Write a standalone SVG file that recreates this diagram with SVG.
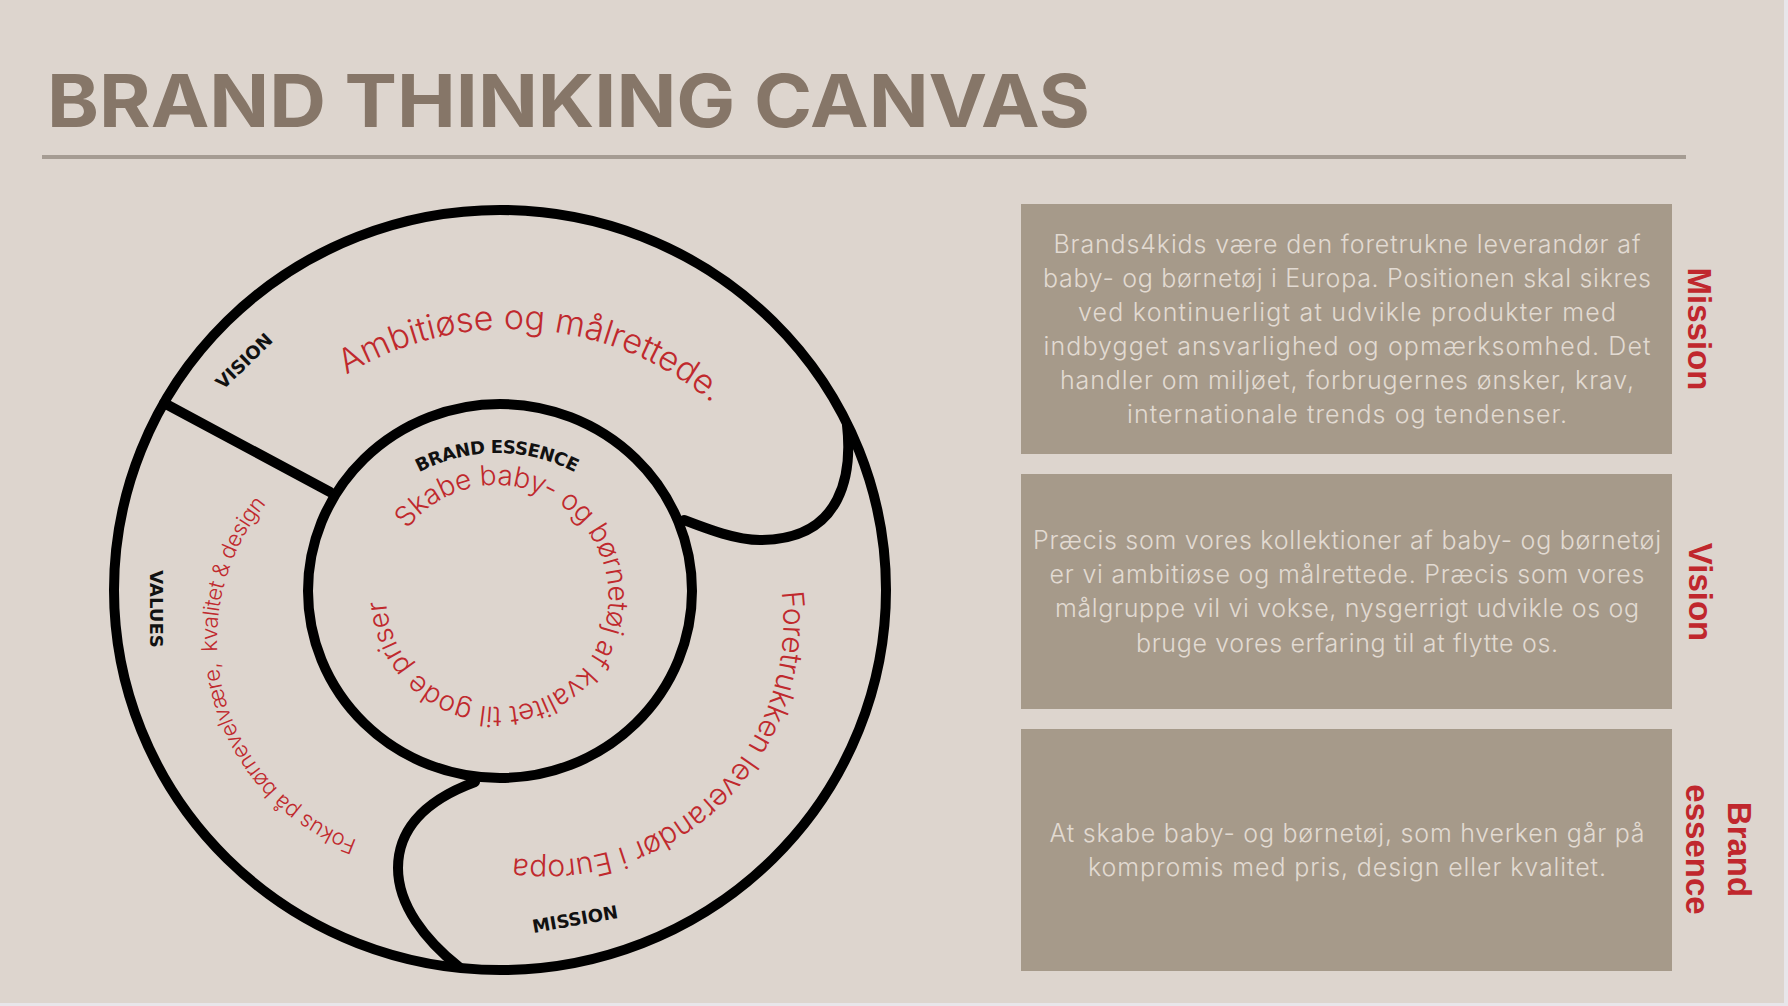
<svg xmlns="http://www.w3.org/2000/svg" width="1788" height="1006" viewBox="0 0 1788 1006">
<defs>
<style>
.ring{fill:none;stroke:#000;stroke-width:10}
.divider{fill:none;stroke:#000;stroke-width:10;stroke-linecap:round}
.lbl{font-family:"DejaVu Sans",sans-serif;font-weight:700;font-size:18px;fill:#111}
.arc{font-family:Inter,"Open Sans",sans-serif;font-weight:300;fill:#c0292d}
.box{fill:#a69a8a}
.bt{font-family:Inter,"Open Sans",sans-serif;font-weight:300;font-size:25px;fill:#e2dad2;text-anchor:middle}
.side{font-family:"Liberation Sans",Arial,sans-serif;font-weight:700;font-size:33px;fill:#c0272d;text-anchor:middle}
.title{font-family:Inter,"Liberation Sans",sans-serif;font-weight:700;font-size:73px;fill:#867668}
</style>
<path id="pAmb" d="M 346.4 375 A 314 314 0 0 1 750.5 441.2"/>
<path id="pBE" d="M 340.1 562.9 A 167 167 0 0 1 653.9 562.9"/>
<path id="pInner" d="M 407.4 529.2 A 112 112 0 0 1 588.6 660.8 A 112 112 0 0 1 397.3 545.9"/>
<path id="pFor" d="M 781.7 592 A 239 239 0 0 1 462.3 845.6"/>
<path id="pFok" d="M 357.2 840.2 A 213 213 0 0 1 279.4 489.4"/>
</defs>
<rect width="1788" height="1006" fill="#ddd5ce"/>
<rect x="1784" y="0" width="4" height="1006" fill="#e8e6ea"/>
<rect x="0" y="1003" width="1788" height="3" fill="#e8e6ea"/>

<g id="title">
<text class="title" x="47" y="127" textLength="1043" lengthAdjust="spacingAndGlyphs">BRAND THINKING CANVAS</text>
<line x1="42" y1="157" x2="1686" y2="157" stroke="#a59c93" stroke-width="4"/>
</g>

<g id="diagram">
<g id="ring-outer"><ellipse class="ring" cx="500" cy="590" rx="386" ry="380"/></g>
<g id="ring-inner"><ellipse class="ring" cx="500" cy="591" rx="192" ry="187"/></g>
</g>

<g id="connectors">
<line class="divider" x1="164" y1="403" x2="330" y2="492"/>
<path class="divider" d="M 847 425 C 852 470, 845 540, 760 540 C 735 540, 705 528, 684 520"/>
<path class="divider" d="M 475 782 C 418 803, 398 835, 398 868 C 398 905, 425 940, 459 967"/>
</g>

<g id="node-vision">
<text class="lbl" transform="translate(244,361) rotate(-44)" x="0" y="6.5" text-anchor="middle">VISION</text>
<text class="arc" font-size="34"><textPath href="#pAmb" textLength="392" lengthAdjust="spacing">Ambitiøse og målrettede.</textPath></text>
</g>

<g id="node-mission">
<text class="lbl" transform="translate(575,919) rotate(-10)" x="0" y="6.5" text-anchor="middle">MISSION</text>
<text class="arc" font-size="30"><textPath href="#pFor" textLength="436" lengthAdjust="spacing">Foretrukken leverandør i Europa</textPath></text>
</g>

<g id="node-values">
<text class="lbl" transform="translate(156.5,609) rotate(90)" x="0" y="6.5" text-anchor="middle">VALUES</text>
<text class="arc" font-size="22" xml:space="preserve"><textPath href="#pFok" textLength="408" lengthAdjust="spacing">Fokus på børnevelvære,  kvalitet &amp; design</textPath></text>
</g>

<g id="node-brand-essence">
<text class="lbl" font-size="17.5" text-anchor="middle"><textPath href="#pBE" startOffset="50%" textLength="162" lengthAdjust="spacing">BRAND ESSENCE</textPath></text>
<text class="arc" font-size="28"><textPath href="#pInner" textLength="622" lengthAdjust="spacing">Skabe baby- og børnetøj af kvalitet til gode priser</textPath></text>
</g>

<g id="box-mission">
<rect class="box" x="1021" y="204" width="651" height="250"/>
<text class="bt" x="1347" y="252.7" textLength="587">Brands4kids være den foretrukne leverandør af</text>
<text class="bt" x="1347" y="286.7" textLength="608">baby- og børnetøj i Europa. Positionen skal sikres</text>
<text class="bt" x="1347" y="320.7" textLength="538">ved kontinuerligt at udvikle produkter med</text>
<text class="bt" x="1347" y="355" textLength="607">indbygget ansvarlighed og opmærksomhed. Det</text>
<text class="bt" x="1347" y="389.3" textLength="574">handler om miljøet, forbrugernes ønsker, krav,</text>
<text class="bt" x="1347" y="423.3" textLength="440">internationale trends og tendenser.</text>
<text class="side" transform="translate(1688,329) rotate(90)">Mission</text>
</g>

<g id="box-vision">
<rect class="box" x="1021" y="474" width="651" height="235"/>
<text class="bt" x="1347" y="549.3" textLength="628">Præcis som vores kollektioner af baby- og børnetøj</text>
<text class="bt" x="1347" y="583.3" textLength="595">er vi ambitiøse og målrettede. Præcis som vores</text>
<text class="bt" x="1347" y="617.3" textLength="584">målgruppe vil vi vokse, nysgerrigt udvikle os og</text>
<text class="bt" x="1347" y="651.7" textLength="422">bruge vores erfaring til at flytte os.</text>
<text class="side" transform="translate(1689,592) rotate(90)">Vision</text>
</g>

<g id="box-brand-essence">
<rect class="box" x="1021" y="729" width="651" height="242"/>
<text class="bt" x="1347" y="841.7" textLength="595">At skabe baby- og børnetøj, som hverken går på</text>
<text class="bt" x="1347" y="875.7" textLength="518">kompromis med pris, design eller kvalitet.</text>
<text class="side" transform="translate(1728,849.5) rotate(90)">Brand</text>
<text class="side" transform="translate(1686,849.5) rotate(90)">essence</text>
</g>
</svg>
